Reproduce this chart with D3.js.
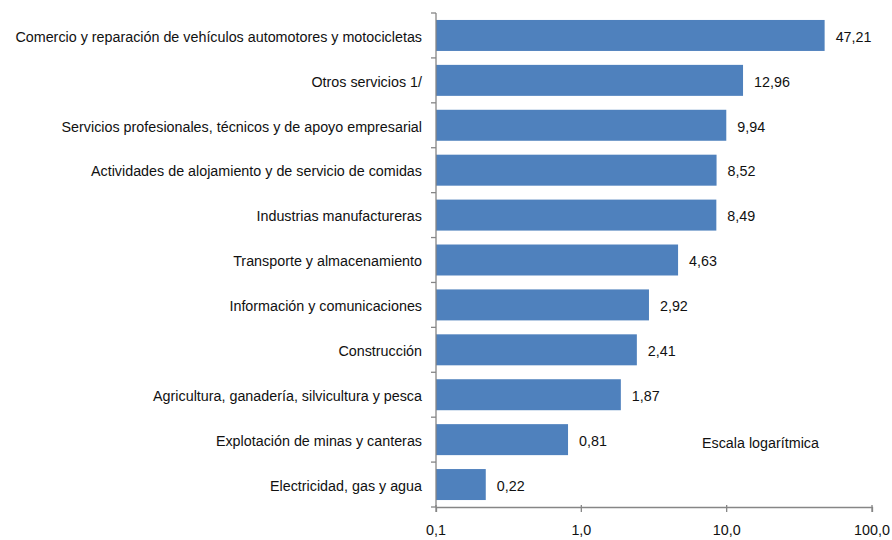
<!DOCTYPE html>
<html><head><meta charset="utf-8">
<script src="https://cdn.jsdelivr.net/npm/d3@7"></script>
<style>
body{margin:0;background:#fff;}
text{font-family:"Liberation Sans",Arial,sans-serif;fill:#111;}
</style></head>
<body><svg id="c" width="892" height="540"></svg>
<script>
const categories = [
  "Comercio y reparación de vehículos automotores y motocicletas",
  "Otros servicios 1/",
  "Servicios profesionales, técnicos y de apoyo empresarial",
  "Actividades de alojamiento y de servicio de comidas",
  "Industrias manufactureras",
  "Transporte y almacenamiento",
  "Información y comunicaciones",
  "Construcción",
  "Agricultura, ganadería, silvicultura y pesca",
  "Explotación de minas y canteras",
  "Electricidad, gas y agua"
];
const values = [47.21, 12.96, 9.94, 8.52, 8.49, 4.63, 2.92, 2.41, 1.87, 0.81, 0.22];
const xTicks = [0.1, 1, 10, 100];
const xTickLabels = ["0,1", "1,0", "10,0", "100,0"];
const note = "Escala logarítmica";

const svg = d3.select("#c");
const mLeft = 436, mRight = 872, mTop = 13, mBottom = 507;
const FS = 15, SX = 0.955;
const x = d3.scaleLog().domain([0.1, 100]).range([mLeft, mRight]);
const y = d3.scaleBand().domain(categories).range([mTop, mBottom]).paddingInner(0.31).paddingOuter(0.155);
const fmt = v => v.toFixed(2).replace(".", ",");
const axisColor = "#868686";

// bars
svg.append("g").selectAll("rect").data(values).join("rect")
  .attr("x", x(0.1))
  .attr("y", (d, i) => y(categories[i]))
  .attr("width", d => x(d) - x(0.1))
  .attr("height", y.bandwidth())
  .attr("fill", "#4F81BD");

// value labels
svg.append("g").selectAll("text").data(values).join("text")
  .attr("transform", (d, i) => `translate(${x(d) + 11},${y(categories[i]) + y.bandwidth() / 2 + 1}) scale(${SX},1)`)
  .attr("dy", "0.35em")
  .attr("font-size", FS)
  .text(d => fmt(d));

// y axis: line + ticks at band boundaries
const step = (mBottom - mTop) / categories.length;
const ga = svg.append("g");
ga.append("line").attr("x1", mLeft).attr("x2", mLeft).attr("y1", mTop).attr("y2", mBottom)
  .attr("stroke", axisColor).attr("stroke-width", 1.3);
d3.range(categories.length + 1).forEach(i => {
  const yy = mTop + i * step;
  ga.append("line").attr("x1", mLeft - 5).attr("x2", mLeft).attr("y1", yy).attr("y2", yy)
    .attr("stroke", axisColor).attr("stroke-width", 1.3);
});
// category labels
svg.append("g").selectAll("text").data(categories).join("text")
  .attr("transform", d => `translate(422,${y(d) + y.bandwidth() / 2 + 1}) scale(${SX},1)`)
  .attr("dy", "0.35em")
  .attr("text-anchor", "end")
  .attr("font-size", FS)
  .text(d => d);

// x axis
const xAxis = d3.axisBottom(x).tickValues(xTicks).tickFormat((d, i) => xTickLabels[i]).tickSize(5).tickPadding(12);
const gx = svg.append("g").attr("transform", `translate(0,${mBottom})`).call(xAxis);
gx.select(".domain").attr("stroke", axisColor).attr("stroke-width", 1.3);
gx.selectAll(".tick line").attr("stroke", axisColor).attr("stroke-width", 1.3).attr("y1", -2);
gx.selectAll(".tick text").attr("font-size", FS).attr("fill", "#111")
  .attr("font-family", '"Liberation Sans",Arial,sans-serif')
  .attr("transform", `scale(${SX},1)`)
  .attr("x", function(){ return 0; });
gx.selectAll(".tick").attr("transform", d => `translate(${x(d)},0)`);

// note
svg.append("text").attr("transform", `translate(702,${443}) scale(${SX},1)`).attr("dy", "0.35em").attr("font-size", FS).text(note);
</script></body></html>
